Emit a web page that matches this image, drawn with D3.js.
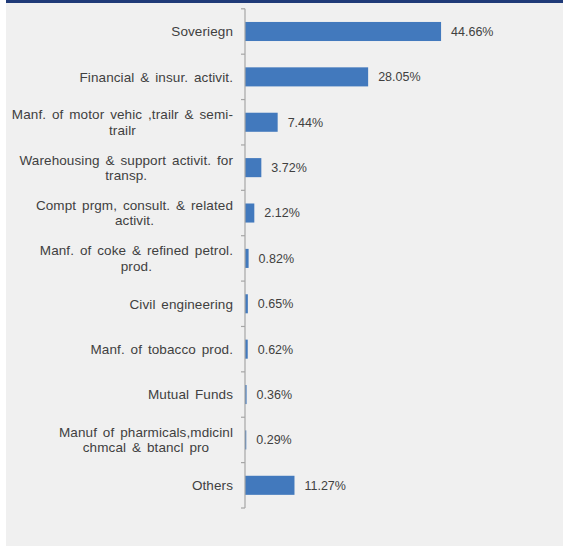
<!DOCTYPE html>
<html>
<head>
<meta charset="utf-8">
<script src="https://cdn.jsdelivr.net/npm/d3@7"></script>
<style>
  html, body { margin: 0; padding: 0; background: #ffffff; }
  svg { display: block; }
  text { font-family: "Liberation Sans", Arial, sans-serif; fill: #404040; }
</style>
</head>
<body>
<svg id="chart" width="563" height="546"></svg>
<script>
// Sector exposure (% of portfolio), top to bottom
const categories = [
  "Soveriegn",
  "Financial & insur. activit.",
  "Manf. of motor vehic ,trailr & semi-\ntrailr",
  "Warehousing & support activit. for\ntransp.",
  "Compt prgm, consult. & related\nactivit.",
  "Manf. of coke & refined petrol.\nprod.",
  "Civil engineering",
  "Manf. of tobacco prod.",
  "Mutual Funds",
  "Manuf of pharmicals,mdicinl\nchmcal & btancl pro",
  "Others"
];
const values = [44.66, 28.05, 7.44, 3.72, 2.12, 0.82, 0.65, 0.62, 0.36, 0.29, 11.27];
const valueLabels = ["44.66%", "28.05%", "7.44%", "3.72%", "2.12%", "0.82%", "0.65%", "0.62%", "0.36%", "0.29%", "11.27%"];

const svg = d3.select("#chart");

// panel background and top strip
svg.append("rect").attr("x", 6).attr("y", 0).attr("width", 557).attr("height", 546).attr("fill", "#f0f0f0");
svg.append("rect").attr("x", 6).attr("y", 0).attr("width", 557).attr("height", 3).attr("fill", "#1f3a78");

const x0 = 245;
const x = d3.scaleLinear().domain([0, 50]).range([x0, x0 + 219.5]);
const y = d3.scaleBand().domain(categories).range([8.8, 508]).paddingInner(0.58).paddingOuter(0.29);

// bars
svg.append("g").selectAll("rect")
  .data(values)
  .join("rect")
  .attr("x", x(0))
  .attr("y", (d, i) => y(categories[i]))
  .attr("width", d => x(d) - x(0))
  .attr("height", y.bandwidth())
  .attr("fill", "#4279bd");

// value labels
svg.append("g").selectAll("text")
  .data(values)
  .join("text")
  .attr("x", d => x(d) + 10)
  .attr("y", (d, i) => y(categories[i]) + y.bandwidth() / 2)
  .attr("dy", "0.35em")
  .attr("font-size", 12.5)
  .text((d, i) => valueLabels[i]);

// category axis: vertical line with ticks between categories
const axisG = svg.append("g");
const yTop = y.range()[0], yBottom = y.range()[1];
axisG.append("line").attr("x1", x0).attr("x2", x0).attr("y1", yTop).attr("y2", yBottom)
  .attr("stroke", "#a6a6a6").attr("stroke-width", 1.2);
d3.range(categories.length + 1).forEach(k => {
  const ty = yTop + k * (yBottom - yTop) / categories.length;
  axisG.append("line").attr("x1", x0 - 4).attr("x2", x0).attr("y1", ty).attr("y2", ty)
    .attr("stroke", "#a6a6a6").attr("stroke-width", 1.2);
});

// category labels: lines centred on each other, block right-aligned to the axis
const labelRight = 233;
const lineH = 15.5;
categories.forEach(c => {
  const lines = c.split("\n");
  const g = svg.append("g");
  const texts = lines.map((ln, j) => g.append("text")
    .attr("font-size", 13.5)
    .attr("word-spacing", "2px")
    .attr("letter-spacing", "0.1px")
    .attr("text-anchor", "middle")
    .attr("y", y(c) + y.bandwidth() / 2 + (j - (lines.length - 1) / 2) * lineH)
    .attr("dy", "0.35em")
    .text(ln));
  const w = d3.max(texts, t => t.node().getComputedTextLength());
  texts.forEach(t => t.attr("x", labelRight - w / 2));
});
</script>
</body>
</html>
